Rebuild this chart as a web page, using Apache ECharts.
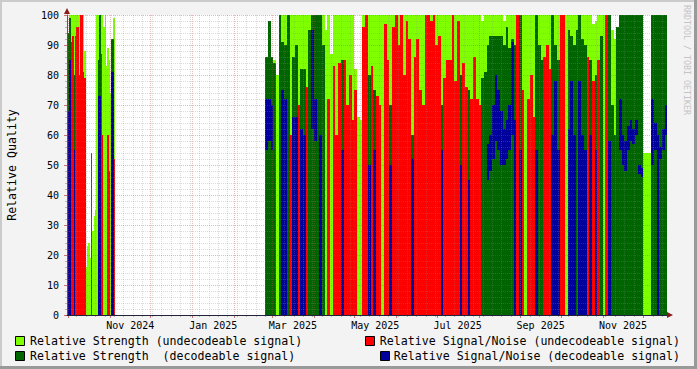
<!DOCTYPE html>
<html><head><meta charset="utf-8">
<script src="https://cdn.jsdelivr.net/npm/echarts@6/dist/echarts.min.js"></script>
<style>html,body{margin:0;padding:0;background:#F3F3F3}#c{width:697px;height:369px}</style>
</head><body><div id="c"></div>
<script>
// ---------- data ----------
// Segment A: one value per day starting 2024-09-30
const segAStart = '2024-09-30';
const segAStepDays = 1;
const strUndA = [86,0,100,100,100,100,100,100,100,100,100,100,100,88,16,23,24,19,54,28,33,35,100,100,100,100,100,96,100,83,89,85,74,88,99,99];
const snrUndA = [0,0,0,91,93,78,93,96,96,80,100,100,81,79,0,0,0,0,54,0,0,0,0,0,0,87,60,0,0,0,60,48,0,0,0,52];
const strDecA = [0,94,99,0,0,80,0,0,0,0,0,0,0,0,0,0,0,0,0,0,0,0,0,85,100,0,0,0,0,0,0,0,0,92,92,0];
const snrDecA = [0,68,85,0,0,55,0,0,0,0,0,0,0,0,0,0,0,0,0,0,0,0,0,73,73,0,0,0,0,0,0,0,0,81,81,0];
const snrDecLowA = [];
// Segment B: one value per 2 days starting 2025-02-24
const segBStart = '2025-02-24';
const segBStepDays = 2;
const strUndB = [0,0,0,85,80,100,100,100,100,100,100,100,100,100,100,100,100,100,100,100,100,100,95,100,87,100,100,100,100,100,
 100,100,100,82,66,65,100,100,100,100,100,100,100,100,100,100,100,100,100,100,100,100,100,100,100,100,100,100,100,100,
 100,100,100,100,100,100,100,100,100,100,100,100,100,100,100,100,100,100,100,100,98,100,100,100,100,100,100,100,98,100,
 100,100,100,100,100,100,100,100,100,100,100,100,100,100,100,100,100,100,100,100,100,100,100,100,100,100,100,100,100,100,
 100,97,98,100,100,100,100,100,95,92,88,0,0,0,0,0,0,0,0,0,54,54,54,0,0,0,0,0,0];
const snrUndB = [0,0,0,0,0,0,0,0,0,60,0,0,70,0,0,76,0,0,0,0,0,0,0,72,0,83,60,84,0,85,
 70,80,65,75,0,0,96,100,0,83,0,73,70,0,97,85,0,96,100,90,100,80,98,92,0,86,92,75,70,100,
 100,98,100,90,93,0,79,85,85,100,78,98,0,84,76,0,72,86,72,70,0,0,0,0,0,0,0,0,0,0,
 0,0,0,100,0,75,0,72,80,66,0,0,0,86,90,82,0,0,0,100,100,0,0,0,0,0,0,0,0,86,
 0,78,0,85,0,0,100,0,0,0,0,0,0,0,0,0,0,0,0,0,0,0,0,0,0,0,0,0,0];
const strDecB = [86,98,86,84,0,100,91,90,100,0,86,90,0,82,82,0,95,100,100,100,100,90,0,0,0,0,0,0,85,0,
 0,0,0,0,0,0,0,0,80,0,75,0,0,0,0,0,70,0,0,0,0,0,0,0,60,0,0,0,0,0,
 0,0,0,0,0,70,0,0,0,0,0,0,80,0,0,75,0,0,0,0,79,81,90,93,93,93,93,93,90,96,
 89,92,90,0,100,0,0,0,0,0,100,90,85,0,0,0,100,90,85,0,0,0,95,93,90,95,100,92,90,0,
 85,0,80,0,93,0,0,100,70,60,96,100,100,100,100,100,100,100,100,100,0,0,0,100,100,100,100,100,100];
const snrDecB = [72,72,70,0,0,0,75,72,0,0,66,66,0,62,60,0,0,95,72,0,60,0,0,0,0,0,0,0,55,0,
 0,0,0,0,0,0,0,0,50,0,55,0,0,0,0,0,50,0,0,0,0,0,0,0,52,0,0,0,0,0,
 0,0,0,0,0,55,0,0,0,0,0,0,50,0,0,45,0,0,0,0,0,0,57,60,70,80,75,68,62,65,
 70,91,65,0,55,0,0,0,0,0,55,0,0,0,0,0,60,78,55,0,0,0,62,78,60,0,78,60,55,0,
 60,0,55,0,0,0,0,58,0,0,0,72,60,58,63,65,62,65,50,49,0,0,0,72,64,60,56,62,70];
const snrDecLowB = [55,58,55,0,0,0,0,0,0,0,0,0,0,0,0,0,0,62,58,0,0,0,0,0,0,0,0,0,0,0,
 0,0,0,0,0,0,0,0,0,0,0,0,0,0,0,0,0,0,0,0,0,0,0,0,0,0,0,0,0,0,
 0,0,0,0,0,0,0,0,0,0,0,0,0,0,0,0,0,0,0,0,0,0,45,48,52,58,55,50,50,52,
 55,60,0,0,0,0,0,0,0,0,0,0,0,0,0,0,0,0,0,0,0,0,0,0,0,0,0,0,0,0,
 0,0,0,0,0,0,0,0,0,0,0,55,50,48,55,58,57,60,47,46,0,0,0,50,55,0,52,55,60];
// axis
const yTicks = [0,10,20,30,40,50,60,70,80,90,100];
const xTickLabels = ['Nov 2024','Jan 2025','Mar 2025','May 2025','Jul 2025','Sep 2025','Nov 2025'];
const legendLabels = ['Relative Strength (undecodeable signal)','Relative Signal/Noise (undecodeable signal)',
  'Relative Strength  (decodeable signal)','Relative Signal/Noise (decodeable signal)'];

// ---------- build ----------
const DAY = 86400000;
const xMin = Date.UTC(2024,8,30,4,0);
const xMax = Date.UTC(2025,11,18,14,40);
function build(start, step, vals, lows){
  const t0 = Date.parse(start+'T00:00:00Z'); const out=[];
  vals.forEach((v,i)=>{ if(v>0) out.push([t0+i*step*DAY, t0+(i+1)*step*DAY, (lows&&lows[i])||0, v]); });
  return out;
}
const C = {lg:'#80FF00', r:'#FF0000', dg:'#006400', b:'#00009C'};
function rectSeries(name, color, data){
  return {type:'custom', name, data, encode:{x:[0,1],y:[2,3]}, clip:true, silent:true, animation:false,
    renderItem(params, api){
      const a = api.coord([api.value(0), api.value(3)]);
      const b = api.coord([api.value(1), api.value(2)]);
      const x0 = Math.round(a[0]), x1 = Math.round(b[0]);
      const y0 = Math.round(a[1]), y1 = Math.round(b[1]);
      return {type:'rect', shape:{x:x0,y:y0,width:x1-x0,height:y1-y0}, style:{fill:color}};
    }};
}
// grid lines
const vLines=[];
{
  let d = new Date(xMin); let y=d.getUTCFullYear(), m=d.getUTCMonth()+1;
  while(true){ const t=Date.UTC(y,m,1); if(t>xMax) break; vLines.push([t,0,1]); m++; if(m>11){m=0;y++;} }
  let t = Date.UTC(2024,8,30);
  while(t<xMax){ if(t>xMin) vLines.push([t,0,0]); t+=7*DAY; }
}
const hLines=[];
for(let v=0; v<=100; v+=2){ hLines.push([xMin, v, v%10===0?1:0]); }
const MINOR='rgba(140,140,140,0.3)', MAJOR='rgba(190,60,60,0.35)';
const TMINOR='rgba(140,140,140,0.6)', TMAJOR='rgba(190,60,60,0.7)';
const gridV = {type:'custom', data:vLines, encode:{x:0,y:1}, clip:false, silent:true, z:20,
  renderItem(params, api){
    const p = api.coord([api.value(0), 0]); const top = api.coord([api.value(0),100]);
    const x = Math.round(p[0])+0.5; const major = api.value(2)===1;
    return {type:'group', children:[
      {type:'line', shape:{x1:x,y1:top[1],x2:x,y2:p[1]}, style:{stroke:major?MAJOR:MINOR,lineWidth:1,lineDash:[1,1]}},
      {type:'line', shape:{x1:x,y1:p[1],x2:x,y2:p[1]+(major?3:2)}, style:{stroke:major?TMAJOR:TMINOR,lineWidth:1}}
    ]};
  }};
const gridH = {type:'custom', data:hLines, encode:{x:0,y:1}, clip:false, silent:true, z:20,
  renderItem(params, api){
    const p = api.coord([xMin, api.value(1)]); const q = api.coord([xMax, api.value(1)]);
    const y = Math.round(p[1])+0.5; const major = api.value(2)===1;
    if(api.value(1)===0) return {type:'line', shape:{x1:p[0]-3,y1:y,x2:p[0],y2:y}, style:{stroke:TMAJOR,lineWidth:1}};
    return {type:'group', children:[
      {type:'line', shape:{x1:p[0],y1:y,x2:q[0],y2:y}, style:{stroke:major?MAJOR:MINOR,lineWidth:1,lineDash:[1,1]}},
      {type:'line', shape:{x1:p[0]-(major?3:2),y1:y,x2:p[0],y2:y}, style:{stroke:major?TMAJOR:TMINOR,lineWidth:1}}
    ]};
  }};
const monthIdx = {Jan:0,Feb:1,Mar:2,Apr:3,May:4,Jun:5,Jul:6,Aug:7,Sep:8,Oct:9,Nov:10,Dec:11};
const xLabelData = xTickLabels.map((s,i)=>{ const [mn,yr]=s.split(' '); const mi=monthIdx[mn];
  const t=(Date.UTC(+yr,mi,1)+Date.UTC(+yr,mi+1,1))/2; return [t,0,i]; });
const xLabels = {type:'custom', data:xLabelData, encode:{x:0,y:1}, clip:false, silent:true, z:20,
  renderItem(params, api){
    const p = api.coord([api.value(0),0]);
    return {type:'text', x:p[0], y:p[1]+10, style:{text:xTickLabels[api.value(2)], fill:'#000',
      font:'10px "DejaVu Sans Mono"', align:'center', verticalAlign:'middle'}};
  }};

const series = [
  rectSeries('Relative Strength (undecodeable signal)', C.lg, build(segAStart,segAStepDays,strUndA).concat(build(segBStart,segBStepDays,strUndB))),
  rectSeries('Relative Signal/Noise (undecodeable signal)', C.r, build(segAStart,segAStepDays,snrUndA).concat(build(segBStart,segBStepDays,snrUndB))),
  rectSeries('Relative Strength  (decodeable signal)', C.dg, build(segAStart,segAStepDays,strDecA).concat(build(segBStart,segBStepDays,strDecB))),
  rectSeries('Relative Signal/Noise (decodeable signal)', C.b, build(segAStart,segAStepDays,snrDecA,snrDecLowA).concat(build(segBStart,segBStepDays,snrDecB,snrDecLowB))),
  gridV, gridH, xLabels
];

const FONT = '"DejaVu Sans Mono", monospace';
const legendItems = [
  {box:[15,336], text:[30,341], align:'left', color:C.lg, label:legendLabels[0]},
  {box:[365,336], text:[680,341], align:'right', color:C.r, label:legendLabels[1]},
  {box:[15,351], text:[30,355.5], align:'left', color:C.dg, label:legendLabels[2]},
  {box:[380,351], text:[680,355.5], align:'right', color:C.b, label:legendLabels[3]}
];
const graphic = [
  {type:'rect', shape:{x:0,y:0,width:697,height:2}, style:{fill:'#CBCBCB'}},
  {type:'rect', shape:{x:0,y:0,width:2,height:369}, style:{fill:'#CBCBCB'}},
  {type:'rect', shape:{x:0,y:366,width:697,height:3}, style:{fill:'#999999'}},
  {type:'rect', shape:{x:694,y:0,width:3,height:369}, style:{fill:'#999999'}},
  {type:'polygon', shape:{points:[[64,14],[70,14],[67,8]]}, style:{fill:'#8B1A1A'}, z:30},
  {type:'polygon', shape:{points:[[667,312],[667,318],[673,315]]}, style:{fill:'#8B1A1A'}, z:30},
  {type:'text', x:12, y:165, rotation:Math.PI/2, style:{text:'Relative Quality', font:'11.6px '+FONT, fill:'#000', align:'center', verticalAlign:'middle'}},
  {type:'text', x:687, y:60, rotation:-Math.PI/2, style:{text:'RRDTOOL / TOBI OETIKER', font:'8.3px '+FONT, fill:'#C4C4C4', align:'center', verticalAlign:'middle'}}
];
legendItems.forEach(it=>{
  graphic.push({type:'rect', shape:{x:it.box[0]+0.5,y:it.box[1]+0.5,width:9,height:9}, style:{fill:it.color, stroke:'#000', lineWidth:1}});
  graphic.push({type:'text', x:it.text[0], y:it.text[1], style:{text:it.label, font:'11.6px '+FONT, fill:'#000', align:it.align, verticalAlign:'middle'}});
});

const chart = echarts.init(document.getElementById('c'), null, {renderer:'svg'});
chart.setOption({
  animation:false,
  backgroundColor:'#F3F3F3',
  grid:{left:67, top:15, width:600, height:300, show:true, backgroundColor:'#FFFFFF', borderWidth:0},
  xAxis:{type:'time', min:xMin, max:xMax, z:25, axisLabel:{show:false}, axisTick:{show:false}, splitLine:{show:false},
    axisLine:{show:true, lineStyle:{color:'#22223A', width:1}}},
  yAxis:{type:'value', min:0, max:100, interval:10, z:25, splitLine:{show:false}, axisTick:{show:false},
    axisLine:{show:true, lineStyle:{color:'#555566', width:1}},
    axisLabel:{show:true, margin:8, color:'#000', fontSize:10, fontFamily:'DejaVu Sans Mono'}},
  series, graphic
});
</script></body></html>
